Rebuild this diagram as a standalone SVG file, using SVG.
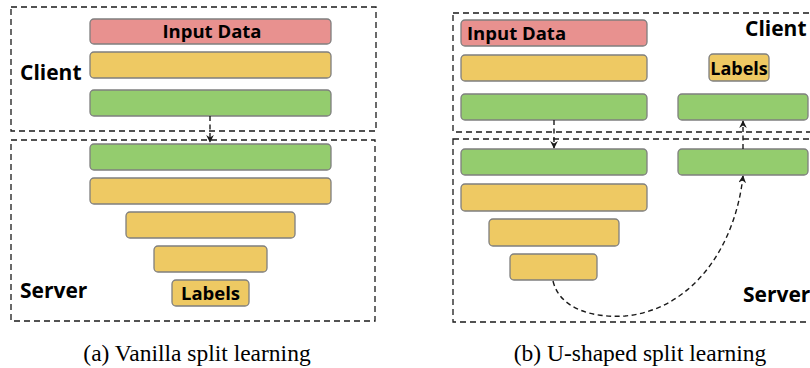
<svg xmlns="http://www.w3.org/2000/svg" width="810" height="368" viewBox="0 0 810 368">
<style>
.bg{fill:#ffffff}
.zone{fill:none;stroke:#1a1a1a;stroke-width:1.3;stroke-dasharray:6,4}
.layer{stroke:#7f7f7f;stroke-width:1.3}
.red{fill:#e8918f}
.yel{fill:#eec963}
.grn{fill:#94cc6e}
.lbl{font-family:"Open Sans","Liberation Sans",sans-serif;font-weight:bold;fill:#000}
.cap{font-family:"Liberation Serif",serif;font-size:23.5px;fill:#000}
.conn{fill:none;stroke:#1a1a1a;stroke-width:1.4;stroke-dasharray:5,3.5}
</style>
<defs>
<marker id="ah" viewBox="0 0 10 10" refX="9" refY="5" markerWidth="5.5" markerHeight="5.5" orient="auto">
<path d="M0,0 L10,5 L0,10 L3,5 Z" fill="#1a1a1a"/>
</marker>
</defs>
<rect class="bg" x="0" y="0" width="810" height="368"/>

<g id="panel-a">
<g id="a-client-zone"><rect class="zone" x="11" y="7" width="365" height="124"/>
<text class="lbl" x="20" y="80" font-size="21">Client</text></g>
<g id="a-server-zone"><rect class="zone" x="11" y="140" width="364" height="181"/>
<text class="lbl" x="20" y="298" font-size="21">Server</text></g>
<g id="a-input"><rect class="layer red" x="90" y="19" width="241" height="25" rx="4"/>
<text class="lbl" x="212" y="38" font-size="18.5" text-anchor="middle">Input Data</text></g>
<g id="a-c2"><rect class="layer yel" x="90" y="52" width="241" height="26" rx="4"/></g>
<g id="a-c3"><rect class="layer grn" x="90" y="90" width="241" height="26" rx="4"/></g>
<g id="a-s1"><rect class="layer grn" x="90" y="144" width="241" height="26" rx="4"/></g>
<g id="a-s2"><rect class="layer yel" x="90" y="178" width="241" height="26" rx="4"/></g>
<g id="a-s3"><rect class="layer yel" x="126" y="212" width="169" height="26" rx="4"/></g>
<g id="a-s4"><rect class="layer yel" x="154" y="246" width="113" height="26" rx="4"/></g>
<g id="a-labels"><rect class="layer yel" x="172" y="280" width="77" height="26" rx="4"/>
<text class="lbl" x="210.5" y="299.5" font-size="18.5" text-anchor="middle">Labels</text></g>
<text class="cap" x="197" y="361" text-anchor="middle">(a) Vanilla split learning</text>
</g>

<g id="panel-b">
<g id="b-client-zone"><rect class="zone" x="453" y="13" width="370" height="119"/>
<text class="lbl" x="745" y="36" font-size="21">Client</text></g>
<g id="b-server-zone"><rect class="zone" x="453" y="139" width="370" height="183"/>
<text class="lbl" x="743" y="302" font-size="21">Server</text></g>
<g id="b-input"><rect class="layer red" x="461" y="20" width="186" height="26" rx="4"/>
<text class="lbl" x="467" y="39.5" font-size="18.5">Input Data</text></g>
<g id="b-c2"><rect class="layer yel" x="461" y="55" width="186" height="26" rx="4"/></g>
<g id="b-c3"><rect class="layer grn" x="461" y="94" width="186" height="26" rx="4"/></g>
<g id="b-labels"><rect class="layer yel" x="709" y="54" width="60" height="27" rx="4"/>
<text class="lbl" x="739" y="74.5" font-size="18" text-anchor="middle">Labels</text></g>
<g id="b-c4"><rect class="layer grn" x="678" y="94" width="130" height="26" rx="4"/></g>
<g id="b-s1"><rect class="layer grn" x="461" y="149" width="186" height="26" rx="4"/></g>
<g id="b-s5"><rect class="layer grn" x="678" y="149" width="130" height="26" rx="4"/></g>
<g id="b-s2"><rect class="layer yel" x="461" y="184" width="186" height="27" rx="4"/></g>
<g id="b-s3"><rect class="layer yel" x="489" y="219" width="130" height="27" rx="4"/></g>
<g id="b-s4"><rect class="layer yel" x="510" y="254" width="87" height="26" rx="4"/></g>
<text class="cap" x="640" y="361" text-anchor="middle">(b) U-shaped split learning</text>
</g>

<g id="connectors">
<path class="conn" d="M210,116 L210,142" marker-end="url(#ah)"/>
<path class="conn" d="M554,120 L554,148" marker-end="url(#ah)"/>
<path class="conn" d="M743,149 L743,121" marker-end="url(#ah)"/>
<path class="conn" d="M553,281 C560,310 595,318 625,316 C690,310 735,250 743,176" marker-end="url(#ah)"/>
</g>
</svg>
